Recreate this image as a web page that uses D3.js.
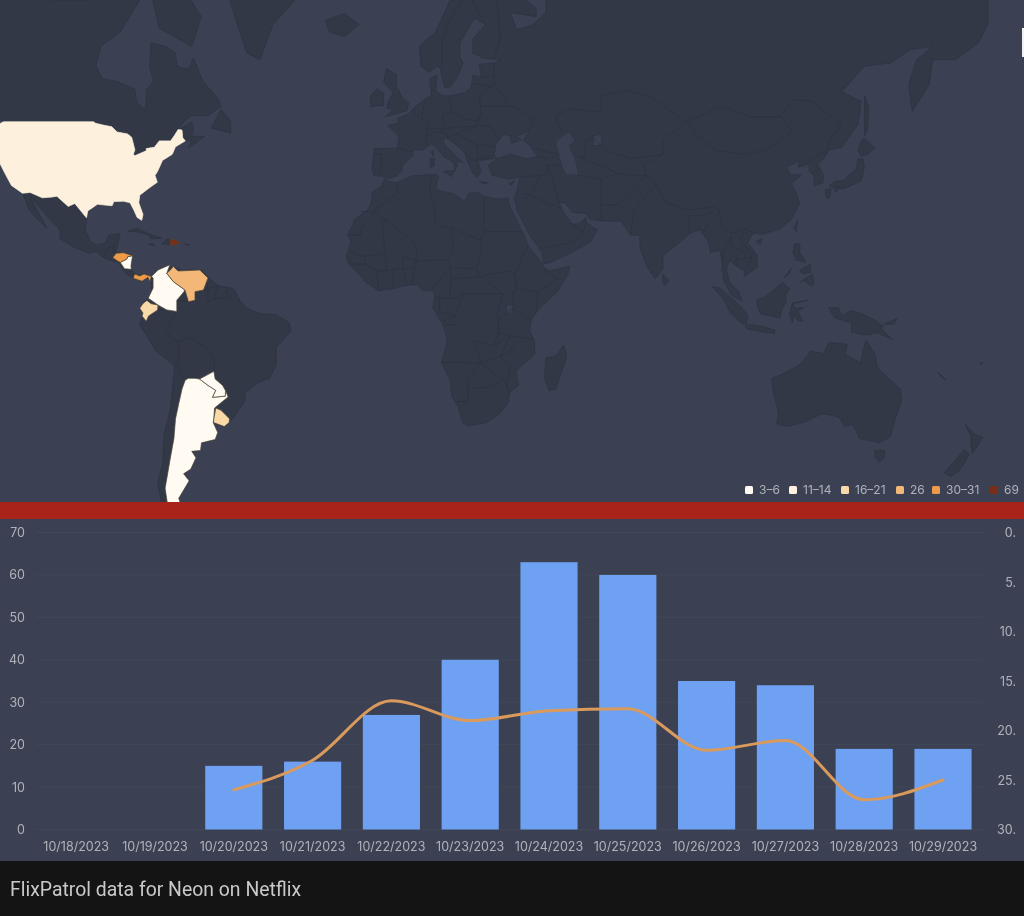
<!DOCTYPE html>
<html><head><meta charset="utf-8">
<script src="https://cdn.jsdelivr.net/npm/d3@7/dist/d3.min.js"></script>
<style>html,body{margin:0;padding:0;background:#141414}svg{display:block;filter:blur(.3px)}text{font-family:Inter,"Noto Sans",sans-serif}</style>
</head><body><svg id="c" width="1024" height="916"></svg>
<script>
// ---- chart data
const dates=["10/18/2023","10/19/2023","10/20/2023","10/21/2023","10/22/2023","10/23/2023","10/24/2023","10/25/2023","10/26/2023","10/27/2023","10/28/2023","10/29/2023"];
const points=[null,null,15,16,27,40,63,60,35,34,19,19];
const ranks=[null,null,26,23,17,19,18,17.8,22,21,27,25];
const pointTicks=[0,10,20,30,40,50,60,70];
const rankTicks=[0,5,10,15,20,25,30];
const legendLabels=["3–6","11–14","16–21","26","30–31","69"];
const legendColors=["#fffaf2","#fdf0dd","#fad9a8","#f3b877","#ee9a4b","#7a2e17"];
const caption="FlixPatrol data for Neon on Netflix";
// ---- geography, [lon,lat]
const northAmerica=[[-168,66],[-162,70],[-156,71],[-141,70],[-128,70],[-115,68.5],[-108,68],[-96,68],[-94,72],[-90,69],[-85,69.5],[-81,68],[-87,64],[-93,62],[-94.5,59],[-92.5,57],[-88,56.5],[-82.5,55.2],[-82,52.9],[-79.5,51.3],[-79,53],[-79,55],[-76.7,56.5],[-78,58.8],[-77.5,62.5],[-73,62],[-70,61],[-69.5,59],[-66,58.5],[-64.5,60.3],[-61.5,56.5],[-57,53.5],[-56,52],[-60,50.2],[-65,50.2],[-67,49.3],[-70,47],[-65,49],[-64.5,47.5],[-65,46],[-61,46],[-63.5,44.7],[-66,43.5],[-65,45.2],[-67,45],[-70,43.7],[-71,42],[-74,40.6],[-75.5,38],[-76.3,37],[-75.6,35.3],[-78,33.9],[-81,32],[-81.3,30],[-80,26.8],[-80.4,25.2],[-81.8,26],[-82.8,28],[-84,30],[-86,30.4],[-89,30.3],[-89.5,29.2],[-91,29.3],[-94,29.6],[-97,27.8],[-97.4,25.5],[-97.8,22.3],[-96,19],[-94.5,18.2],[-91.8,18.6],[-90.5,21],[-87,21.5],[-87.7,18.5],[-88.3,16],[-86,15.9],[-83.2,15],[-83.7,12],[-83.6,10.9],[-82,9],[-79.7,9.5],[-77.4,8.7],[-77.9,7.2],[-78.5,8.5],[-80.3,7.3],[-83,8.2],[-85.7,10],[-87.6,13],[-91.5,14],[-94.5,16.2],[-96.5,15.7],[-101.5,17.6],[-105.5,20],[-105.5,22.5],[-109,25.8],[-112.5,29.5],[-114.7,31.7],[-112,27],[-109.5,23],[-112,25],[-115,28],[-117.1,32.5],[-120.5,34.5],[-122.5,37.5],[-124.3,40.3],[-124,46],[-124.7,48.4],[-123,49],[-127,51],[-130,54.5],[-134,58],[-140,60],[-146,61],[-151,59.5],[-158,56],[-165,54.5],[-158,58.5],[-165,61],[-166,63],[-161,64.5]];
const southAmerica=[[-77.4,8.7],[-75.5,10.6],[-72,12.2],[-71,11],[-71.5,10],[-70,11.5],[-68,10.7],[-62,10.7],[-60,8.5],[-57,6],[-52,5],[-50,1],[-48,-1],[-44,-2.7],[-39,-3],[-35,-5.5],[-34.5,-8],[-39,-13],[-39,-18],[-41,-22],[-44.5,-23.2],[-48.5,-26],[-48.8,-28.5],[-52,-32.5],[-53.5,-34],[-55,-35],[-58.4,-34],[-57,-36.5],[-57.8,-38.2],[-62,-39],[-62.3,-40.8],[-65,-41],[-63.7,-42.5],[-65.3,-45],[-67.5,-46],[-65.8,-47.5],[-69,-51],[-68.3,-52.5],[-65,-55],[-70,-55.5],[-74,-53],[-75.5,-48],[-74,-44],[-73.5,-37],[-71.5,-30],[-70.3,-18.4],[-76,-14],[-81,-6],[-80,-3],[-81,-1],[-79.5,1],[-78,2.5],[-77.3,4],[-77.5,7]];
const eurasia=[[25,71],[31,70],[41,67],[41,66],[33,66.5],[35,64.3],[40,65],[44,66.5],[44,68.5],[54,68.7],[60,69],[68,69],[68,73],[80,73],[105,77],[113,74],[130,71],[140,72.5],[160,70],[170,70],[180,69],[180,65],[177,62.5],[170,60],[163,60],[162,56],[156.7,51],[155.6,56],[158,60],[163,62],[156,61.5],[150,59.5],[142,59],[135,54.7],[141,53],[140,48.5],[135,43.5],[131,43],[129.5,41],[127.5,39.8],[129.4,37],[129.2,35.2],[126.5,34.4],[126.5,37],[125,38],[125,39.7],[121.5,39],[122,40.5],[118,39],[119,37.3],[122.5,37],[119.5,35],[121.5,31.5],[122,29.8],[119.5,25.5],[116,22.8],[110.5,21.2],[108,21.6],[106,19],[109,15],[109,11.5],[105,8.7],[105,10.5],[102.5,12],[100.5,13.5],[99.5,11],[100.5,7],[103.4,4],[104.2,1.4],[101,3],[98.5,8],[98.5,12],[97.5,16.5],[94.5,16],[94,19],[91.5,22.5],[88.5,21.7],[86.5,20],[82,16.5],[80,15],[80,11],[77.5,8],[75,12],[73,17],[72.8,21],[70,21],[69,22.5],[67,25],[61.5,25],[57.5,25.5],[56.5,27],[52,27.5],[50,30],[48,30],[50,26.5],[51.5,25],[51.5,24.2],[54,24.2],[56.3,26],[56.5,24.5],[59.8,22.5],[57.7,19],[52,16],[45,12.8],[43.3,12.7],[42.7,16],[39,21],[35,28],[34.9,29.5],[34.2,31.3],[35,32.8],[36,36.6],[32.5,36],[30.5,36.5],[27.5,37],[26.3,39.5],[29,41],[33,42],[38,41],[41.5,41.5],[39,44],[37,45.2],[39,47.2],[35,46],[36.5,45.2],[33.5,44.5],[33,46],[31,46.5],[28.7,44.5],[28,41.8],[29,41.2],[26,40.8],[23,40.5],[24,38],[22.8,36.5],[21.5,37.5],[19.5,41],[19,42.5],[14.5,45.2],[13,45.7],[12.3,45],[13.5,43.5],[16,41.8],[18.5,40],[17,40.5],[16.5,39],[16,38],[15.7,40],[12.5,41.5],[10.3,43.5],[8.8,44.4],[6,43],[3,43],[3.2,41.8],[0,39.5],[-0.5,38],[-2,36.8],[-5.3,36],[-6.3,36.8],[-9,37],[-9.5,38.7],[-8.8,43.3],[-1.8,43.4],[-1.2,46],[-4.7,48.3],[-1.5,48.7],[-1.5,49.7],[1.5,50.5],[4,52],[7,53.5],[8.8,54],[8.2,57],[10.5,57.5],[10,55],[12,54],[14.2,54],[19,54.5],[21,55.5],[21.5,57.5],[24,57.2],[23.5,59.3],[28,59.5],[30,60],[25,60.2],[21.5,61],[21.5,63],[25.3,65],[22,65.8],[17.5,62.5],[17.5,60.5],[18.5,59.5],[16.5,57],[14.3,55.5],[12.8,55.5],[11.2,59],[10.5,59],[8,58],[5.5,59],[5,62],[10,64],[14.5,68],[19,70]];
const africa=[[-5.9,35.8],[-2,35.2],[3,36.9],[10,37.3],[11,36.8],[10,34],[11,33.2],[15.5,32.4],[19,30.3],[20.2,32.5],[23,32.7],[25,31.7],[29,31],[32.3,31.2],[32.5,29.8],[33.8,27.5],[35.5,24],[37.3,20.8],[38.8,17.5],[43,12.5],[43.3,11.5],[45,10.5],[51.3,11.9],[50.8,9.5],[47.5,4],[42,-1],[39.5,-4.5],[39,-8],[40.5,-11],[40.5,-15],[37,-18],[34.8,-20],[35.5,-24],[32.8,-26],[32.5,-28.5],[30,-31.5],[25.7,-34],[20,-34.8],[18.3,-34],[17,-30],[15,-27],[14.5,-22.5],[11.8,-17.5],[13.7,-11],[12.3,-6],[9.2,-1],[9.8,3.5],[8.5,4.5],[6,4.3],[4.5,6.3],[1,6],[-3,5],[-7.5,4.4],[-11.5,7],[-13.5,9.5],[-16.7,12.5],[-17.5,14.7],[-16,19],[-17,21],[-14.8,25.5],[-11,28],[-9.7,30],[-9.5,32.8],[-6.5,34.3]];
const australia=[[113.5,-22],[114,-26],[115.5,-31.5],[115,-34.3],[118,-35],[123.5,-33.9],[129,-31.7],[134,-32.5],[136,-35],[138.5,-34.5],[140.5,-38],[144,-38.5],[146.5,-39],[150,-37.5],[151.5,-33],[153.5,-28],[153,-25],[149.5,-22],[146,-19],[145.3,-15],[142.5,-10.8],[141.5,-14],[140.8,-17.5],[136,-15],[136.8,-12],[131,-11.4],[129.5,-14.8],[125.5,-14],[122.2,-18],[117,-20.7]];
const islands=[
 [[-73,78],[-55,70],[-51,65],[-48,61],[-44,60],[-40,65],[-32,68.5],[-25,72],[-20,75],[-30,83],[-60,82]],
 [[-78,69.5],[-75,64.5],[-65,62],[-62,66],[-68,69.5],[-75,72]],[[-115,69],[-105,69],[-110,73],[-118,72]],
 [[-59,47.7],[-53,46.7],[-53,49],[-56,51.5]],[[-128,50.5],[-125,48.6],[-123.5,48.4],[-125,50]],
 [[-84.8,22],[-82,23],[-77,21],[-74.2,20.2],[-77.5,19.9],[-78,21],[-82,22]],[[-74.4,18.5],[-72.5,19.9],[-71.7,19.7],[-71.7,18.3]],[[-78.3,18.3],[-76.3,18],[-77,18.5]],[[-67.2,18.4],[-65.7,18.3],[-66.5,18]],
 [[-24,65.5],[-18,66.4],[-13.5,65],[-18,63.4],[-22.5,64]],
 [[-5.5,50],[1.3,51.2],[1.7,52.7],[-0.2,53.6],[-2,55.8],[-2,57.6],[-5,58.6],[-6,56.5],[-3,54.5],[-4.5,53],[-5,51.7],[-3,51.3]],
 [[-10,52],[-6,52.2],[-6,54.5],[-8,55.2],[-10,54]],[[8.3,41],[9.7,41],[9.5,39.2],[8.5,39]],[[8.7,42.6],[9.5,43],[9.3,41.5]],[[12.5,38],[15.6,38.2],[15,36.7]],[[23.6,35.5],[26.2,35.2],[24.8,34.9]],[[32.5,35],[34.4,35.6],[33.5,34.6]],
 [[44,-16],[47,-15.5],[49.5,-12.2],[50.4,-15.8],[47,-25],[45,-25.5],[43.5,-22]],[[79.9,9.5],[81.8,7.5],[80.6,6],[79.8,7.5]],
 [[120.2,23],[121.5,25.2],[121,22]],[[108.7,19.2],[110.5,20],[110,18.3]],[[142,54],[143.3,52],[143,47.5],[142,46],[142,50]],
 [[141,45],[142,45.5],[145.3,43.5],[143,42],[141,41.5],[140,43]],[[140,41],[141.5,41],[142,39],[141,35.7],[138.5,34.7],[135.5,33.6],[132,34],[131,34.4],[133,35.5],[136,35.8],[137,37],[139.5,38.5]],[[130,33.5],[131.8,33.5],[131.3,31.2],[130.2,31.3]],[[132.5,34],[134.5,34.2],[133.2,32.8]],
 [[120.5,18.5],[122.2,18.4],[122,16],[124,13],[121,13.7],[120,16]],[[122,10.5],[125.3,12.5],[125.5,10],[123,9.5]],[[122,7],[126,9.5],[126.5,6.5],[125.5,5.8],[123.5,7.5]],[[117.2,8.4],[119.5,11.2],[118.8,9.5]],
 [[95.3,5.6],[97.5,5.2],[103.5,0],[106,-3],[105.8,-5.8],[104.5,-5.8],[101,-2.8],[98.7,1.7]],[[105.2,-6.6],[106.5,-6],[110.5,-6.6],[114.5,-7.7],[114.3,-8.7],[110,-8.2],[106,-7.4]],[[109,1.5],[111.5,2.5],[113.5,4.2],[116.8,7],[119,5],[117.7,3],[118,1],[116.5,-1.5],[116,-4],[113,-3.3],[110,-2.8],[109,0]],[[119.8,-5.5],[120.5,-3],[121.5,-4.8],[123,-5],[121.5,-2],[123.3,-0.8],[120.5,-1],[120,0.7],[124.8,1.5],[119.7,0.3],[119,-3]],
 [[131,-0.8],[134,-0.8],[135,-3.3],[138,-1.7],[141,-2.6],[145,-4.5],[147.8,-6.5],[147,-7],[150.5,-10.5],[146,-8.5],[143,-9.2],[141,-9],[138,-8.3],[138,-5.5],[133,-4],[132,-2.8]],[[148,-5.8],[152,-4.2],[151,-6]],
 [[145,-40.8],[148.2,-40.8],[148,-42.5],[146.5,-43.5],[145.5,-42.5]],[[173,-34.5],[175.5,-36.7],[178.4,-37.7],[177,-39.5],[175.2,-41.5],[174.8,-39.5],[174.8,-37.5]],[[172.7,-40.6],[174.2,-41.7],[172.8,-43.7],[171,-45.5],[168.5,-46.6],[166.5,-45.8],[170,-43]],
 [[166,-22],[167,-22.4],[164.5,-20.2]],[[178,-18],[178.5,-17.5],[177.4,-17.6]]
];
const waters=[
 [[47,45],[51,47],[53,45],[51,44],[53,41],[54,37],[50,37.3],[49,39],[47.5,43]],[[58.5,46],[61,46.5],[61,44],[58.5,44]],
 [[31.8,0],[34,0],[33.5,-2.5],[32,-2.5]]
];
const borders=[
 [[-117.1,32.5],[-114.7,32.7],[-111,31.3],[-108,31.5],[-106.5,31.7],[-103,29],[-101,29.8],[-97.4,25.9]],[[-92.2,14.5],[-91,17.2],[-89,17.8],[-88.3,18.5]],[[-89,17.8],[-89,15.8],[-88.3,15.7]],[[-90,13.8],[-89.3,14.4],[-87.8,13.4]],[[-85.7,11.1],[-83.6,10.9]],[[-83,8.2],[-82.6,9.5]],
 [[-140.9,69.7],[-141,60.3],[-135,59],[-130,55]],[[-69.6,-2],[-73,-7.5],[-70.5,-11],[-69,-11],[-65.3,-10],[-60,-13.5],[-58,-16.3],[-58.2,-20],[-57.8,-22.2]],[[-69,-11],[-69,-16],[-70,-17.5],[-70.3,-18.4]],[[-69.4,-18],[-67.2,-23],[-66.5,-21.8]],[[-60.7,8.5],[-60,5],[-57,6]],[[-57,6],[-58,2],[-54,2.3],[-54,5.7]],[[-54,2.3],[-51.7,4]],[[-61.4,4.6],[-60,5]],[[-60,5],[-60,1],[-58,2]],[[-66,1],[-69.6,1.5]],[[-72.7,-1.5],[-75.5,-1.5]],
 [[-2,35],[-1.7,32.5],[-8.7,28],[-8.7,27.3]],[[-13,27.7],[-8.7,27.3],[-4.8,25],[-6.5,25],[-5.5,15.5],[-12,14.8],[-16.5,16]],[[-17,21],[-13,21],[-13,23],[-8.7,27.3]],[[8.5,37],[8.3,32.5],[9.5,30],[10,24.5],[12,23.5],[15,23],[15.5,16],[13.6,13.7],[4,13.5],[3.6,11.7]],[[-4.8,25],[3.3,19],[4.2,16.9],[4,13.5]],[[25,31.7],[25,22],[36.8,22]],[[15,23],[24,19.5],[24,15.7],[22.5,11],[24,8.7],[27,9.5],[33,10.5],[34.5,9.5]],[[25,22],[24,19.5]],[[38.5,18],[36.5,14.3],[34.5,9.5],[35,5.2],[41.5,3.9],[47.5,8],[43,11]],[[35,5.2],[34,4],[34,-1],[39.5,-4.7]],[[41.5,3.9],[41,-1.6]],[[12.3,-6],[16.5,-6],[22,-11],[28,-12.5],[29.5,-8.5],[29,-2.5],[30.7,3.5],[24,8.7]],[[30.7,3.5],[18.6,3.5],[16,-3.5],[12.3,-5]],[[2.7,6.3],[3.6,11.7]],[[13.6,13.7],[14.5,11.5],[8.6,4.7]],[[-3,5],[-3,11],[0,11],[1.2,6]],[[-7.5,4.4],[-8,10.5],[-5,10.5],[-3,11]],[[-12,14.8],[-11.5,12.5],[-8,10.5]],[[-16.7,12.5],[-11.5,12.5]],[[-5.5,15.5],[-5,10.5]],[[0,11],[3.6,11.7]],[[0,11],[0,14.8],[4,13.5]],[[11.8,-17.3],[24,-17.5],[22,-11]],[[24,-17.5],[20,-22],[20,-28.5],[16.5,-28.5]],[[24,-17.5],[30,-15.7],[33,-9.4],[28,-12.5]],[[34,-1],[29.5,-4.5],[29.5,-8.5],[33,-9.4],[40.5,-10.5]],[[30,-15.7],[33,-19],[32,-24.5],[32.8,-26.5]],[[35,-11.5],[33,-14],[30,-15.7]],[[20,-25],[26,-24.5],[31,-22.3],[32,-24.5]],[[24,-17.5],[27,-20],[31,-22.3]],[[9.8,2.2],[16,2],[18.6,3.5]],[[14.5,5.5],[15,8],[14.5,11.5],[22.5,11]],[[14.5,5.5],[14.5,2.2]],[[15,8],[24,8.7]],[[11.3,2.2],[11.3,-2.5],[14,-2.5],[16,-3.5]],
 [[49,46.5],[47,50],[51,51.5],[61,51],[61,54],[69,55],[77,53.5],[87,49]],[[87,49],[98,52],[107,50],[116,50],[120,47],[112,43],[105,42],[96,43],[91,46],[87,49]],[[116,50],[120,53.3],[126,53],[135,48.3],[131,45],[131,43]],[[124.3,40],[128,42],[130.5,42.5]],[[126.6,37.8],[128.4,38.6]],[[87,49],[80,45],[80,42],[74,39.5],[75,37]],[[75,37],[78,34.5],[81,30],[88,28],[96,29],[97.5,27.5],[94,24],[92.5,22]],[[88,26.5],[92,26.5],[96,28]],[[88,26.5],[88,22]],[[61,25],[61,29.5],[66,29.5],[71,34],[75,37]],[[70,21.5],[71,28],[75,32],[78,34.5]],[[54,37],[61,36],[66,37.5],[71,37],[75,37]],[[54,41.5],[56,41.3],[56,45],[59,45.5],[62,43],[70,41],[80,42]],[[61,36],[61,29.5]],[[54,41.5],[62,39],[66,37.5]],[[44.5,39.5],[46,36],[48,30]],[[36,36.6],[42,37],[44.5,37.2],[44.5,39.5]],[[42,37],[41,34.4],[39,32],[36.5,32.5]],[[36,29.3],[39,32],[47,29],[48.5,28.5]],[[51.5,24.5],[55.5,22],[52,19],[43,17]],[[55.5,22],[56.3,24.5]],[[98,10],[98.5,16],[101,20.5]],[[97.5,27.5],[98,24],[101,21.5],[105,22.8],[108,21.6]],[[105,22.8],[104,19.5],[107.5,15],[106,11]],[[102.5,12],[102.5,14],[105.5,14.2],[107.5,14.7]],[[101,20.5],[101,17.7],[104.5,16.5],[105.5,14.2]],[[39.5,43.5],[48.5,41.8]],[[41.5,41.5],[44.5,41],[46.5,41.5]],[[44.5,39.5],[49,39.5]],
 [[12,59],[12,63],[15,66],[20,69],[28.5,69.5]],[[24,66],[20,69]],[[28.5,69.5],[30,63],[28,60.5]],[[28,59.5],[28,56],[23,54.3]],[[24,57.2],[27.5,57.5]],[[21,56.2],[26.5,55.7]],[[14.2,54],[15,51],[19,49.5],[22.7,49.2],[24,50.5],[23.5,54]],[[7,53.5],[6,51],[6,49.5],[8,49],[7.6,47.6],[13,47.5],[12,50.3],[15,51]],[[2.6,51],[6,49.5]],[[7.6,47.6],[7,44]],[[-1.8,43.4],[3,42.5]],[[-8.8,42],[-6.5,42],[-7,37.2]],[[7,46],[10.5,47],[13.7,46.5],[13.7,45.6]],[[13,47.5],[16.5,48],[19,48],[22.7,48.2],[26.5,48.2],[29.7,45.3]],[[16.5,46.5],[22.7,44.2],[23,41.3],[26.5,41.5],[28,42]],[[19.3,42],[21,40.7],[26.5,41]],[[22.7,44.2],[28,43.8]],[[24,50.5],[22.7,48.2]],[[24,52],[31,52],[34.5,52],[40,49.5],[38.5,47]],[[23.5,53.5],[28,56],[32,53],[31,52]],[[16.5,46.5],[13.7,45.6]],[[22.7,48.2],[16.5,46.5]]
];
const usa=[[-124.7,48.4],[-123,49],[-95.2,49],[-94.6,48.7],[-92,48.3],[-89.6,48],[-88,46.9],[-84.8,46.5],[-83.5,45.8],[-82.5,43],[-83,42],[-82.5,41.7],[-79,42.8],[-79,43.3],[-76.5,43.6],[-75,45],[-71.5,45],[-70.3,46.2],[-69.2,47.4],[-68,47.3],[-67.8,45.7],[-67,45],[-70,43.7],[-71,42],[-74,40.6],[-75.5,38],[-76.3,37],[-75.6,35.3],[-78,33.9],[-81,32],[-81.3,30],[-80,26.8],[-80.4,25.2],[-81.8,26],[-82.8,28],[-84,30],[-86,30.4],[-89,30.3],[-89.5,29.2],[-91,29.3],[-94,29.6],[-97,27.8],[-97.4,25.9],[-101,29.8],[-103,29],[-106.5,31.7],[-108,31.5],[-111,31.3],[-114.7,32.7],[-117.1,32.5],[-120.5,34.5],[-122.5,37.5],[-124.3,40.3],[-124,46]];
const honduras=[[-89.3,14.4],[-88.3,15.7],[-86,15.9],[-83.2,15],[-84.7,14.7],[-85,14],[-87,13],[-87.8,13.4]];
const nicaragua=[[-87,13],[-85,14],[-84.7,14.7],[-83.2,15],[-83.7,12],[-83.6,10.9],[-85.7,11.1]];
const panama=[[-83,8.2],[-82.6,9.5],[-81,8.9],[-79.7,9.5],[-77.4,8.7],[-77.9,7.2],[-78.5,8.5],[-80.3,7.3]];
const dominican=[[-71.7,19.7],[-70,19.7],[-68.4,18.6],[-71,18],[-71.7,18.3]];
const colombia=[[-77.4,8.7],[-75.4,10.7],[-71.7,12.3],[-72.7,9.7],[-70.7,7.2],[-67.1,4.6],[-67.7,3.7],[-69.6,1.5],[-69.6,-2],[-72.7,-1.5],[-75.4,0],[-78.4,2.1],[-76.9,5.2],[-76.9,8.3]];
const venezuela=[[-72.7,9.7],[-71.5,10.8],[-70.7,11.8],[-69.2,10.4],[-62.5,10.7],[-60,8.3],[-61.4,4.6],[-64,4.1],[-64,1.5],[-66,1],[-67.1,4.6],[-70.7,7.2]];
const ecuador=[[-78.8,1.4],[-77.5,0.4],[-75.4,0],[-75.5,-1.5],[-78.3,-3.4],[-79,-5],[-80.3,-3.4],[-80,-2.5],[-81,-1],[-80,0.5]];
const paraguay=[[-62.6,-22.2],[-58.2,-20],[-57.8,-22.2],[-55.5,-24],[-54.6,-25.5],[-54.7,-27],[-58.6,-27.3],[-57.6,-25.4],[-60,-24]];
const argentina=[[-66,-22],[-64,-22],[-62.6,-22.2],[-60,-24],[-57.6,-25.4],[-58.6,-27.3],[-54.7,-27],[-54.6,-25.5],[-53.8,-27.2],[-58,-30.2],[-58.2,-33],[-58.4,-34],[-57,-36.5],[-57.8,-38.2],[-62,-39],[-62.3,-40.8],[-65,-41],[-63.7,-42.5],[-65.3,-45],[-67.5,-46],[-65.8,-47.5],[-69,-51],[-68.3,-52.3],[-72.5,-52],[-73.2,-49],[-71.7,-43],[-70.5,-38],[-70,-33],[-69,-29],[-68,-25],[-67,-22.5]];
const uruguay=[[-57.6,-30.2],[-56,-30.8],[-53.4,-33],[-53.5,-34],[-55,-35],[-58.3,-34],[-58.2,-33]];
const highlighted=[[usa,1],[colombia,0],[argentina,0],[paraguay,0],[nicaragua,0],[uruguay,2],[ecuador,2],[venezuela,3],[honduras,4],[panama,4],[dominican,5]];

const W=1024,H=916,seaColor="#3b4152",landColor="#323846",borderColor="#2c3140";
const svg=d3.select("#c");
const projection=d3.geoMercator().scale(186.2).translate([403,305]);
const ringPath=r=>d3.line()(r.map(projection))+"Z";
const linePath=r=>d3.line()(r.map(projection));
svg.append("rect").attr("width",W).attr("height",H).attr("fill",seaColor);
const map=svg.append("g").style("filter","blur(.6px)");
map.selectAll("path.land").data([northAmerica,southAmerica,eurasia,africa,australia,...islands]).join("path").attr("class","land").attr("d",ringPath).attr("fill",landColor).attr("stroke",borderColor).attr("stroke-width",.6);
map.selectAll("path.water").data(waters).join("path").attr("class","water").attr("d",ringPath).attr("fill",seaColor).attr("stroke",borderColor).attr("stroke-width",.4);
map.selectAll("path.border").data(borders).join("path").attr("class","border").attr("d",linePath).attr("fill","none").attr("stroke",borderColor).attr("stroke-width",.7);
map.selectAll("path.hit").data(highlighted).join("path").attr("class","hit").attr("d",d=>ringPath(d[0])).attr("fill",d=>legendColors[d[1]]).attr("stroke",d=>d[0]===usa?legendColors[1]:"#4a4638").attr("stroke-width",.7);
svg.append("rect").attr("x",1022).attr("y",28).attr("width",2).attr("height",29).attr("fill","#f2f2f2");
// legend
const legendX=[745,789,841,896,932,990];
const legend=svg.selectAll("g.leg").data(legendLabels).join("g").attr("class","leg").attr("transform",(d,i)=>`translate(${legendX[i]},490)`);
legend.append("rect").attr("y",-4).attr("width",8).attr("height",8).attr("rx",1.5).attr("fill",(d,i)=>legendColors[i]);
legend.append("text").attr("x",14).attr("y",4.4).attr("font-size",12).attr("fill","#aeb2bb").text(d=>d);
// red band
svg.append("rect").attr("y",502).attr("width",W).attr("height",17).attr("fill","#a8231a");
svg.append("rect").attr("y",519).attr("width",W).attr("height",342).attr("fill","#3b4152");
// chart
const x=d3.scaleBand().domain(dates).range([36.8,982.4]).paddingInner(.275).paddingOuter(.1375);
const yL=d3.scaleLinear().domain([0,70]).range([829.5,532.5]);
const yR=d3.scaleLinear().domain([0,30]).range([532.5,829.5]);
svg.append("g").selectAll("line").data(pointTicks).join("line").attr("x1",36).attr("x2",983).attr("y1",d=>yL(d)).attr("y2",d=>yL(d)).attr("stroke","#414758").attr("stroke-width",1);
const tickStyle=g=>{g.select(".domain").remove();g.selectAll("line").remove();g.selectAll("text").attr("fill","#b0b3bb").attr("font-size",12.5).attr("font-family",'Inter,"Noto Sans",sans-serif');};
svg.append("g").attr("transform","translate(32,0)").call(d3.axisLeft(yL).tickValues(pointTicks).tickSize(0).tickPadding(7)).call(tickStyle);
svg.append("g").attr("transform","translate(1016,0)").call(d3.axisLeft(yR).tickValues(rankTicks).tickSize(0).tickPadding(0).tickFormat(d=>d+".")).call(tickStyle);
svg.append("g").attr("transform","translate(0,842.5)").call(d3.axisBottom(x).tickSize(0).tickPadding(0)).call(tickStyle);
svg.selectAll("rect.bar").data(dates.map((d,i)=>({d,v:points[i]})).filter(e=>e.v!=null)).join("rect").attr("class","bar").attr("x",e=>x(e.d)).attr("width",x.bandwidth()).attr("y",e=>yL(e.v)).attr("height",e=>yL(0)-yL(e.v)).attr("fill","#6fa1f2");
const rankLine=d3.line().defined(e=>e.v!=null).x(e=>x(e.d)+x.bandwidth()/2).y(e=>yR(e.v)).curve(d3.curveMonotoneX);
svg.append("path").datum(dates.map((d,i)=>({d,v:ranks[i]}))).attr("d",rankLine).attr("fill","none").attr("stroke","#d99a5c").attr("stroke-width",3).attr("stroke-linecap","round");
// caption
svg.append("rect").attr("y",861).attr("width",W).attr("height",55).attr("fill","#141414");
svg.append("text").attr("x",10).attr("y",895.5).attr("font-size",19.4).attr("fill","#c9c9c9").style("font-family","Roboto,sans-serif").text(caption);
</script></body></html>
